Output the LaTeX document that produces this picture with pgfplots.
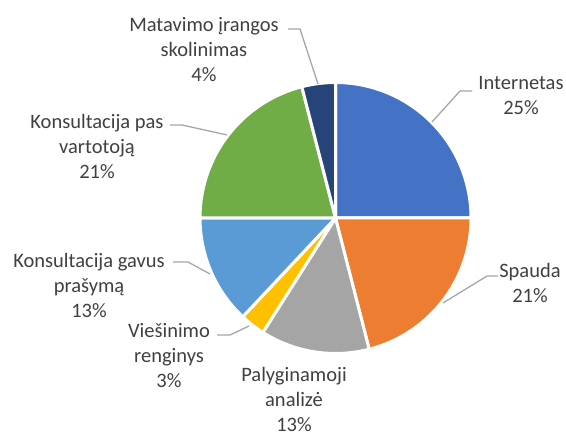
\documentclass[border=0pt]{standalone}
\usepackage{pgfplots}
\usepackage{pgfplotstable}
\pgfplotsset{compat=1.18}
\usepackage{fontspec}
\setmainfont{Carlito}
\definecolor{cA}{HTML}{4472C4}
\definecolor{cB}{HTML}{ED7D31}
\definecolor{cC}{HTML}{A5A5A5}
\definecolor{cD}{HTML}{FFC000}
\definecolor{cE}{HTML}{5B9BD5}
\definecolor{cF}{HTML}{70AD47}
\definecolor{cG}{HTML}{264478}
\definecolor{txt}{HTML}{404040}
\definecolor{lead}{HTML}{A6A6A6}

\pgfplotstableread{
idx value
0 25
1 21
2 13
3 3
4 13
5 21
6 4
}\piedata

\newcommand\getv[2]{\pgfplotstablegetelem{#1}{value}\of\piedata\global\let#2\pgfplotsretval}
\getv{0}\vA \getv{1}\vB \getv{2}\vC \getv{3}\vD \getv{4}\vE \getv{5}\vF \getv{6}\vG
\pgfmathsetmacro\sA{0}
\pgfmathsetmacro\sB{\sA+\vA}
\pgfmathsetmacro\sC{\sB+\vB}
\pgfmathsetmacro\sD{\sC+\vC}
\pgfmathsetmacro\sE{\sD+\vD}
\pgfmathsetmacro\sF{\sE+\vE}
\pgfmathsetmacro\sG{\sF+\vF}
\pgfmathsetmacro\sH{\sG+\vG}

\newcommand\pieslice[3]{%
  \filldraw[fill=#3, draw=white, line width=3bp, line join=round]
    (axis cs:335.5,217) -- ++({90-3.6*#1}:135.5bp)
    arc[start angle={90-3.6*#1}, end angle={90-3.6*#2}, radius=135.5bp] -- cycle;}

\begin{document}
\begin{tikzpicture}
\path[use as bounding box] (0,0) rectangle (566bp,435bp);
\begin{axis}[
  at={(0,0)}, anchor=south west,
  scale only axis, width=566bp, height=435bp,
  xmin=0, xmax=566, ymin=0, ymax=435,
  hide axis, clip=false]
\pieslice{\sA}{\sB}{cA}
\pieslice{\sB}{\sC}{cB}
\pieslice{\sC}{\sD}{cC}
\pieslice{\sD}{\sE}{cD}
\pieslice{\sE}{\sF}{cE}
\pieslice{\sF}{\sG}{cF}
\pieslice{\sG}{\sH}{cG}

\begin{scope}[every node/.style={text=txt, align=center, font=\fontsize{20.5bp}{25bp}\selectfont, inner sep=0pt}]
% leader lines
\draw[lead, line width=1.3bp] (axis cs:288,406) -- (axis cs:300,406) -- (axis cs:318,351);
\draw[lead, line width=1.3bp] (axis cs:170,310) -- (axis cs:182,310) -- (axis cs:227,300);
\draw[lead, line width=1.3bp] (axis cs:173,173) -- (axis cs:188,173) -- (axis cs:210,161);
\draw[lead, line width=1.3bp] (axis cs:217,100) -- (axis cs:230,100) -- (axis cs:249,109);
\draw[lead, line width=1.3bp] (axis cs:472,344) -- (axis cs:460,344) -- (axis cs:432,313);
\draw[lead, line width=1.3bp] (axis cs:498,159) -- (axis cs:487,159) -- (axis cs:443,132);
% labels
\node at (axis cs:204,385) {Matavimo įrangos\\skolinimas\\\vG\%};
\node at (axis cs:97,289) {Konsultacija pas\\vartotoją\\\vF\%};
\node at (axis cs:89,150) {Konsultacija gavus\\prašymą\\\vE\%};
\node at (axis cs:169,79) {Viešinimo\\renginys\\\vD\%};
\node at (axis cs:294,36) {Palyginamoji\\analizė\\\vC\%};
\node at (axis cs:521,339) {Internetas\\\vA\%};
\node at (axis cs:530,152) {Spauda\\\vB\%};
\end{scope}
\end{axis}
\end{tikzpicture}
\end{document}
